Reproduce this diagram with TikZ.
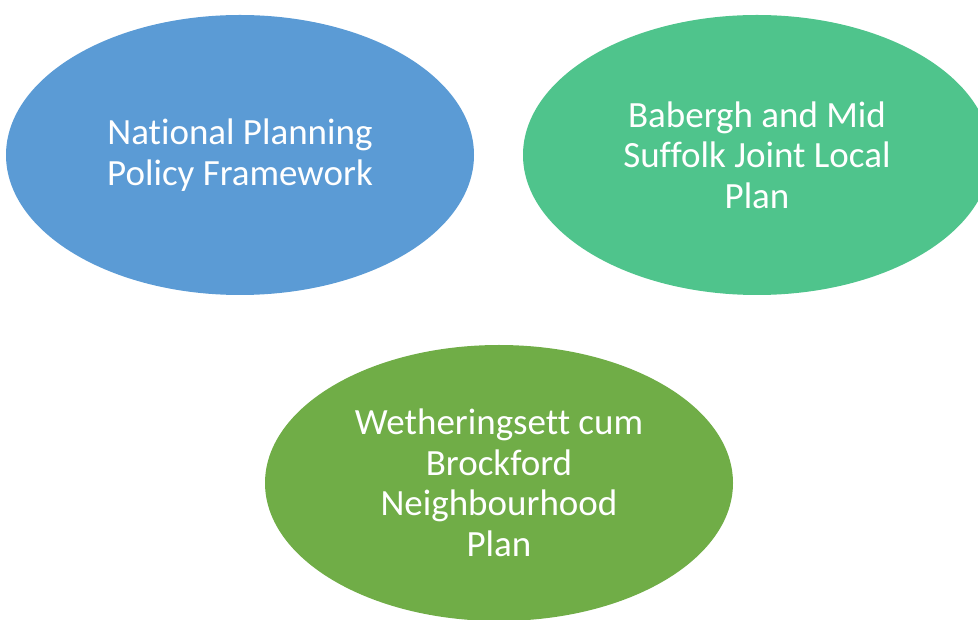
\documentclass[tikz,border=0pt]{standalone}
\usepackage{fontspec}
\setmainfont[Ligatures=NoCommon]{Carlito}
\usetikzlibrary{shapes.geometric}
\definecolor{npblue}{HTML}{5B9BD5}
\definecolor{lpgreen}{HTML}{4FC48C}
\definecolor{nhgreen}{HTML}{70AD47}
\tikzset{
  oval/.style={ellipse, draw=none, inner sep=0pt, minimum width=468pt, minimum height=280pt,
    text=white, align=center, font=\fontsize{37}{40.5}\selectfont}
}
\begin{document}
\begin{tikzpicture}[x=1pt,y=1pt]
\clip (0,0) rectangle (978,619);
\useasboundingbox (0,0) rectangle (978,619);
\node[oval, fill=npblue] (npf) at (240,464) {National Planning\\Policy Framework};
\node[oval, fill=lpgreen] (jlp) at (757,464) {Babergh and Mid\\Suffolk Joint Local\\Plan};
\node[oval, fill=nhgreen, minimum height=276pt] (nhp) at (499,136) {Wetheringsett cum\\Brockford\\Neighbourhood\\Plan};
\end{tikzpicture}
\end{document}
